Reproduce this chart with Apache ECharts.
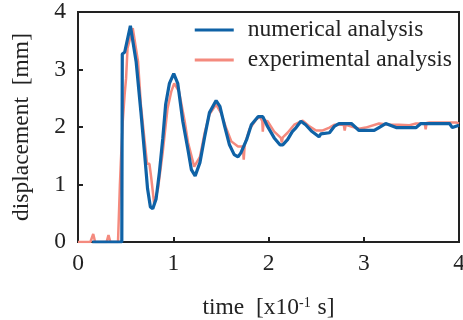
<!DOCTYPE html>
<html>
<head>
<meta charset="utf-8">
<script src="https://cdn.jsdelivr.net/npm/echarts@6/dist/echarts.min.js"></script>
<style>
  html, body { margin: 0; padding: 0; background: #fff; }
  #chart { width: 463px; height: 320px; }
</style>
</head>
<body>
<div id="chart"></div>
<script>
// time [x10^-1 s], displacement [mm]
const numerical = [
  [0.15, 0], [0.46, 0], [0.465, 3.27], [0.49, 3.3], [0.55, 3.76], [0.61, 3.14],
  [0.66, 2.27], [0.7, 1.52], [0.73, 0.93], [0.76, 0.61], [0.785, 0.58], [0.82, 0.75],
  [0.855, 1.22], [0.89, 1.8], [0.92, 2.39], [0.96, 2.76], [1.005, 2.93], [1.047, 2.76],
  [1.1, 2.1], [1.155, 1.6], [1.19, 1.26], [1.23, 1.15], [1.28, 1.38], [1.33, 1.83],
  [1.38, 2.25], [1.45, 2.46], [1.49, 2.36], [1.54, 2.01], [1.59, 1.69], [1.64, 1.52],
  [1.68, 1.48], [1.71, 1.55], [1.77, 1.78], [1.82, 2.04], [1.89, 2.18], [1.94, 2.18],
  [1.99, 2.01], [2.06, 1.81], [2.12, 1.69], [2.15, 1.69], [2.2, 1.78], [2.25, 1.92],
  [2.29, 1.99], [2.34, 2.1], [2.39, 2.04], [2.45, 1.93], [2.53, 1.83], [2.55, 1.88],
  [2.64, 1.9], [2.69, 2.01], [2.74, 2.06], [2.87, 2.06], [2.95, 1.94], [3.11, 1.94],
  [3.16, 1.99], [3.23, 2.06], [3.34, 1.99], [3.55, 1.99], [3.6, 2.06], [3.9, 2.06],
  [3.93, 1.99], [4.0, 2.03]
];

const experimental = [
  [0, 0], [0.13, 0], [0.16, 0.14], [0.18, 0], [0.3, 0], [0.32, 0.12], [0.34, 0],
  [0.42, 0], [0.44, 1.0], [0.45, 1.4], [0.47, 2.1], [0.49, 2.57], [0.505, 2.85],
  [0.52, 3.37], [0.575, 3.72], [0.63, 3.14], [0.66, 2.39], [0.7, 1.75], [0.725, 1.36],
  [0.75, 1.36], [0.77, 1.1], [0.8, 0.66], [0.84, 0.93], [0.89, 1.57], [0.94, 2.32],
  [0.98, 2.62], [1.01, 2.76], [1.06, 2.62], [1.12, 2.1], [1.155, 1.73], [1.22, 1.31],
  [1.28, 1.48], [1.33, 1.9], [1.38, 2.22], [1.45, 2.39], [1.5, 2.25], [1.56, 1.96],
  [1.61, 1.75], [1.68, 1.66], [1.73, 1.66], [1.74, 1.43], [1.75, 1.69], [1.8, 1.96],
  [1.87, 2.13], [1.91, 2.18], [1.935, 2.1], [1.94, 1.92], [1.95, 2.12], [1.99, 2.1],
  [2.06, 1.92], [2.13, 1.81], [2.14, 1.73], [2.15, 1.82], [2.2, 1.9], [2.27, 2.04],
  [2.36, 2.11], [2.43, 2.01], [2.5, 1.94], [2.57, 1.94], [2.64, 1.99], [2.69, 2.04],
  [2.79, 2.04], [2.8, 1.94], [2.81, 2.04], [2.83, 2.03], [2.95, 1.97], [3.02, 1.99],
  [3.16, 2.06], [3.27, 2.04], [3.37, 2.04], [3.48, 2.03], [3.55, 2.06], [3.64, 2.06],
  [3.65, 1.96], [3.66, 2.07], [3.69, 2.08], [3.82, 2.08], [3.97, 2.08], [4.0, 2.06]
];

const xTicks = [0, 1, 2, 3, 4];
const yTicks = [0, 1, 2, 3, 4];

const font = 'Liberation Serif';
const ink = '#222';
const blue = '#0f62a6';
const salmon = '#f48a7e';
const fs = 23.5;

const chart = echarts.init(document.getElementById('chart'), null, { renderer: 'canvas' });
chart.setOption({
  animation: false,
  textStyle: { fontFamily: font, color: ink },
  grid: {
    left: 78, right: 4, top: 12, bottom: 78,
    outerBoundsMode: 'none',
    show: true, borderColor: ink, borderWidth: 2, backgroundColor: 'transparent'
  },
  legend: {
    data: ['numerical analysis', 'experimental analysis'],
    orient: 'vertical',
    right: 11,
    top: 18,
    padding: 0,
    itemGap: 6,
    itemWidth: 39,
    itemHeight: 3,
    icon: 'rect',
    textStyle: { fontFamily: font, fontSize: fs, lineHeight: 23, color: ink, padding: [0, 0, 0, 9] }
  },
  xAxis: {
    type: 'value',
    min: xTicks[0],
    max: xTicks[xTicks.length - 1],
    interval: 1,
    name: 'time  [x10{sup|-1} s]',
    nameLocation: 'middle',
    nameGap: 54,
    nameTextStyle: {
      fontFamily: font, fontSize: fs, color: ink,
      rich: { sup: { fontFamily: font, fontSize: 14, color: ink, verticalAlign: 'top', padding: [0, 1, 8, 0] } }
    },
    axisLine: { show: false },
    axisTick: { show: true, inside: true, length: 5, lineStyle: { color: ink, width: 2 } },
    axisLabel: { fontFamily: font, fontSize: fs, color: ink, margin: 10 },
    splitLine: { show: false }
  },
  yAxis: {
    type: 'value',
    min: yTicks[0],
    max: yTicks[yTicks.length - 1],
    interval: 1,
    name: 'displacement  [mm]',
    nameLocation: 'middle',
    nameGap: 44,
    nameTextStyle: { fontFamily: font, fontSize: fs, color: ink },
    axisLine: { show: false },
    axisTick: { show: true, inside: true, length: 5, lineStyle: { color: ink, width: 2 } },
    axisLabel: { fontFamily: font, fontSize: fs, color: ink, margin: 12 },
    splitLine: { show: false }
  },
  series: [
    {
      name: 'experimental analysis',
      type: 'line',
      data: experimental,
      showSymbol: false,
      symbol: 'none',
      color: salmon,
      lineStyle: { color: salmon, width: 2.5 },
      z: 2
    },
    {
      name: 'numerical analysis',
      type: 'line',
      data: numerical,
      showSymbol: false,
      symbol: 'none',
      color: blue,
      lineStyle: { color: blue, width: 3.2 },
      z: 3
    }
  ]
});
</script>
</body>
</html>
